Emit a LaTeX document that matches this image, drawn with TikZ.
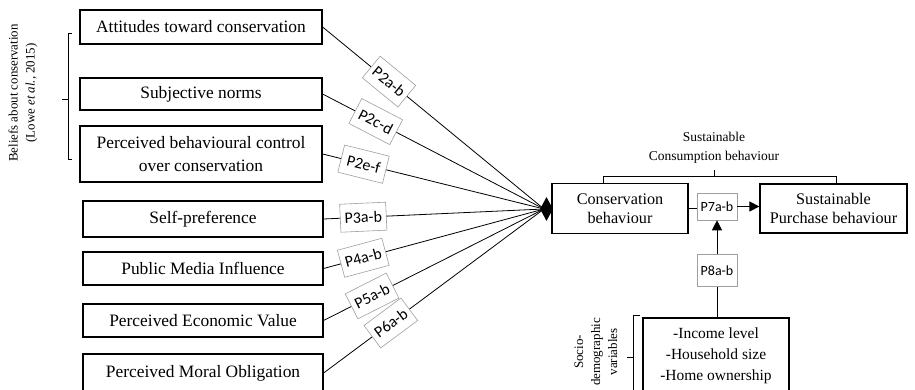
\documentclass[tikz,border=0pt]{standalone}
\usepackage{fontspec}
\setmainfont{Liberation Serif}
\newfontfamily\lblfont{Carlito}
\usetikzlibrary{arrows.meta,shapes.geometric}
\begin{document}
\begin{tikzpicture}[x=1pt,y=-1pt,
  mainbox/.style={draw=black, line width=1.2pt, inner sep=0pt, align=center, font=\fontsize{17.4}{23}\selectfont},
  rightbox/.style={draw=black, line width=1.2pt, inner sep=0pt, align=center, font=\fontsize{16.2}{19}\selectfont},
  lbl/.style={draw=gray!75, line width=0.6pt, fill=white, inner sep=0pt, minimum width=46pt, minimum height=28pt, font=\lblfont\fontsize{16}{18}\selectfont, sloped},
  smalllbl/.style={draw=gray!75, line width=0.6pt, fill=white, inner sep=0pt, minimum width=40pt, font=\lblfont\fontsize{14}{16}\selectfont},
  conn/.style={draw=black, line width=0.8pt},
  brk/.style={draw=black, line width=0.7pt},
  tip/.style={-{Triangle[length=10pt,width=10pt]}},
  hubtip/.style={diamond, fill=black, draw=none, inner sep=0pt, minimum width=13pt, minimum height=24pt},
  bracetext/.style={align=center, inner sep=0pt}
]
\path[use as bounding box, clip] (0,0) rectangle (915,390);

% left boxes
\node[mainbox, minimum width=242pt, minimum height=34pt] (att) at (201,27) {Attitudes toward conservation};
\node[mainbox, minimum width=242pt, minimum height=32pt] (sn) at (201,94) {Subjective norms};
\node[mainbox, minimum width=242pt, minimum height=56pt] (pbc) at (201,154) {Perceived behavioural control\\over conservation};
\node[mainbox, minimum width=240pt, minimum height=36pt] (sp) at (203,219) {Self-preference};
\node[mainbox, minimum width=240pt, minimum height=33pt] (pm) at (203,268.5) {Public Media Influence};
\node[mainbox, minimum width=240pt, minimum height=33pt] (ev) at (203,320.5) {Perceived Economic Value};
\node[mainbox, minimum width=240pt, minimum height=38pt] (mo) at (203,373) {Perceived Moral Obligation};

% beliefs bracket
\coordinate (b1) at (72,33);
\coordinate (b2) at (72,159);
\coordinate (bm) at (68,99);
\draw[brk] (b1) -- (68,33) -- (68,159) -- (b2);
\draw[brk] (bm) -- (62,99);
\node[bracetext, rotate=90, font=\fontsize{12.9}{17}\selectfont] (beliefs) at (23,93) {Beliefs about conservation\\(Lowe \textit{et al.}, 2015)};

% hub
\coordinate (hc) at (544,209);
\draw[conn] (att.east) -- node[lbl, pos=0.3] (l2ab) {P2a-b} (hc);
\draw[conn] (sn.east) -- node[lbl, pos=0.24] (l2cd) {P2c-d} (hc);
\draw[conn] (pbc.east) -- node[lbl, pos=0.185] (l2ef) {P2e-f} (hc);
\draw[conn] (sp.east) -- node[lbl, pos=0.18] (l3ab) {P3a-b} (hc);
\draw[conn] (pm.east) -- node[lbl, pos=0.18] (l4ab) {P4a-b} (hc);
\draw[conn] (ev.east) -- node[lbl, pos=0.22] (l5ab) {P5a-b} (hc);
\draw[conn] (mo.east) -- node[lbl, pos=0.305] (l6ab) {P6a-b} (hc);
\node[hubtip] (hub) at (546.5,209) {};

% right part
\node[rightbox, minimum width=136pt, minimum height=50pt] (cons) at (620,208.5) {Conservation\\behaviour};
\node[rightbox, minimum width=147pt, minimum height=49pt] (sus) at (833.5,208.5) {Sustainable\\Purchase behaviour};
\node[smalllbl, minimum height=27pt] (p7) at (717,206.5) {P7a-b};
\node[smalllbl, minimum height=32pt] (p8) at (717,270.5) {P8a-b};
\node[draw=black, line width=1.2pt, inner sep=0pt, minimum width=146pt, minimum height=76pt, align=center, font=\fontsize{15.5}{21}\selectfont] (socio) at (716,356) {-Income level\\-Household size\\-Home ownership};

\draw[conn] (cons.east) -- (cons.east -| p7.west);
\draw[conn, tip] (p7.east) -- (p7.east -| sus.west);
\draw[conn, tip] (p8.north) -- (p7.south);
\draw[conn] (p8.south) -- (p8.south |- socio.north);

% consumption bracket
\coordinate (c1) at (603,183);
\coordinate (c2) at (836,183);
\coordinate (cm) at (714,170);
\draw[brk] (c1) -- (603,176) -- (836,176) -- (c2);
\draw[brk] (714,176) -- (cm);
\node[bracetext, font=\fontsize{13.5}{19}\selectfont] (consum) at (714,148) {Sustainable\\Consumption behaviour};

% socio bracket
\coordinate (s1) at (640,315);
\coordinate (sm) at (627,357);
\draw[brk] (s1) -- (633,315) -- (633,400);
\draw[brk] (633,357) -- (sm);
\node[bracetext, rotate=90, font=\fontsize{13}{17}\selectfont] (sociolbl) at (596,352) {Socio-\\demographic\\variables};
\end{tikzpicture}
\end{document}
